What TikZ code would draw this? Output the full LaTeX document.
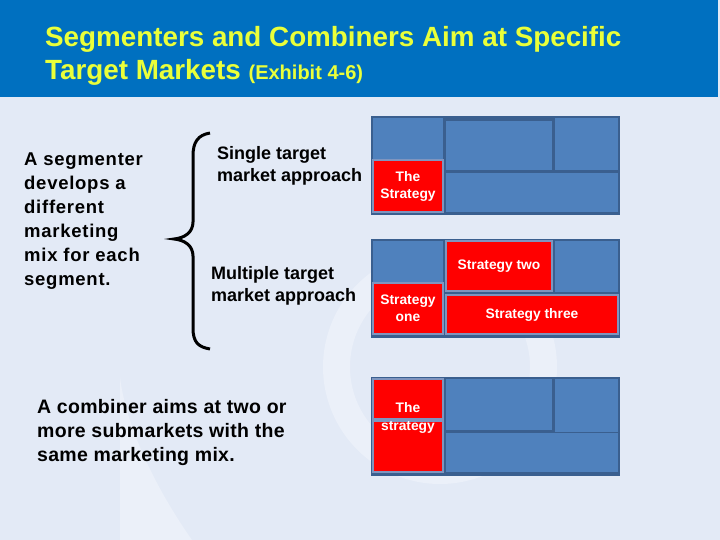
\documentclass[tikz,border=0pt]{standalone}
\usepackage{fontspec}
\setmainfont{Liberation Sans}
\usetikzlibrary{positioning}
\definecolor{bgblue}{HTML}{E3EAF6}
\definecolor{wmark}{HTML}{EBF0F9}
\definecolor{titleblue}{HTML}{0070C0}
\definecolor{titleyellow}{HTML}{EAFF3A}
\definecolor{cellblue}{HTML}{4F81BD}
\definecolor{framedark}{HTML}{3A5F8F}
\definecolor{redrim}{HTML}{7F95BF}
\tikzset{
  frame/.style={fill=framedark,inner sep=0,outer sep=0,anchor=north west},
  cell/.style={fill=cellblue,inner sep=0,outer sep=0,anchor=north west},
  cell red/.style={cell,fill=red,draw=redrim,line width=1.5pt,text=white,
    align=center,font=\fontsize{13.8}{17}\selectfont\bfseries},
  size/.style 2 args={minimum width=#1,minimum height=#2},
  say/.style={inner sep=0,anchor=north west,align=left,text=black},
  title/.style={anchor=base west,inner sep=0,text=titleyellow,
    font=\fontsize{27.8}{34}\selectfont\bfseries}
}

\begin{document}
\begin{tikzpicture}[x=1pt,y=-1pt]

  % Background and watermark
  \fill[bgblue] (0,0) rectangle (720,540);
  \useasboundingbox (0,0) rectangle (720,540);
  \fill[wmark,even odd rule] (440,367) circle (117) (440,367) circle (90);
  \fill[wmark] (120,377) -- (120,540) -- (192,540) .. controls (150,480) and (125,420) .. (120,377);

  % Title band
  \fill[titleblue] (0,0) rectangle (718,97);
  \node[title] (title1) at (45,47) {Segmenters and Combiners Aim at Specific};
  \node[title] (title2) at (45,80) {Target Markets {\fontsize{20}{20}\selectfont(Exhibit 4-6)}};

  % Left texts
  \node[say,font=\fontsize{18.5}{24}\selectfont\bfseries\addfontfeature{LetterSpace=4}] (segm) at (24,153)
    {A segmenter\\develops a\\different\\marketing\\mix for each\\segment.};
  \node[say,font=\fontsize{19.5}{24}\selectfont\bfseries\addfontfeature{LetterSpace=1.5}] (comb) at (37,399)
    {A combiner aims at two or\\more submarkets with the\\same marketing mix.};

  % Brace and approaches
  \draw[line width=3pt] (210,133) .. controls (198,135) and (193,142) .. (193,156) -- (193,222)
    .. controls (193,232) and (185,238) .. (174,239) .. controls (185,240) and (193,246) .. (193,256)
    -- (193,328) .. controls (193,342) and (198,347) .. (210,349);
  \node[say,font=\fontsize{18}{22}\selectfont\bfseries] (single) at (217,146)
    {Single target\\market approach};
  \node[say,font=\fontsize{18}{22}\selectfont\bfseries] (multi) at (211,266)
    {Multiple target\\market approach};

  % Box 1: single target market
  \node[frame,size={249}{99}] (f1) at (371,116) {};
  \node[cell,size={70}{41}] (b1a) at (373,118) {};
  \node[cell red,size={70}{52}] (b1s) at (373,160) {The\\Strategy};
  \node[cell,size={106}{49}] (b1b) at (446,121) {};
  \node[cell,size={63}{52}] (b1c) at (555,118) {};
  \node[cell,size={172}{39}] (b1d) at (446,173) {};

  % Box 2: multiple target markets
  \node[frame,size={249}{99}] (f2) at (371,239) {};
  \node[cell,size={70}{41}] (b2a) at (373,241) {};
  \node[cell red,size={70}{51}] (b2s1) at (373,283) {Strategy\\one};
  \node[cell red,size={106}{50}] (b2s2) at (446,241) {Strategy two};
  \node[cell,size={63}{51}] (b2c) at (555,241) {};
  \node[cell red,size={172}{39}] (b2s3) at (446,295) {Strategy three};

  % Box 3: combiner
  \node[frame,size={249}{99}] (f3) at (371,377) {};
  \node[cell red,size={70}{40}] (b3r1) at (373,379) {};
  \node[cell red,size={70}{51}] (b3r2) at (373,421) {};
  \node[cell,size={106}{51}] (b3b) at (446,379) {};
  \node[cell,size={63}{53}] (b3c) at (555,379) {};
  \node[cell,size={172}{39}] (b3d) at (446,433) {};
  \node[text=white,align=center,font=\fontsize{13.8}{18}\selectfont\bfseries] (b3s) at (408,418) {The\\strategy};

\end{tikzpicture}
\end{document}
